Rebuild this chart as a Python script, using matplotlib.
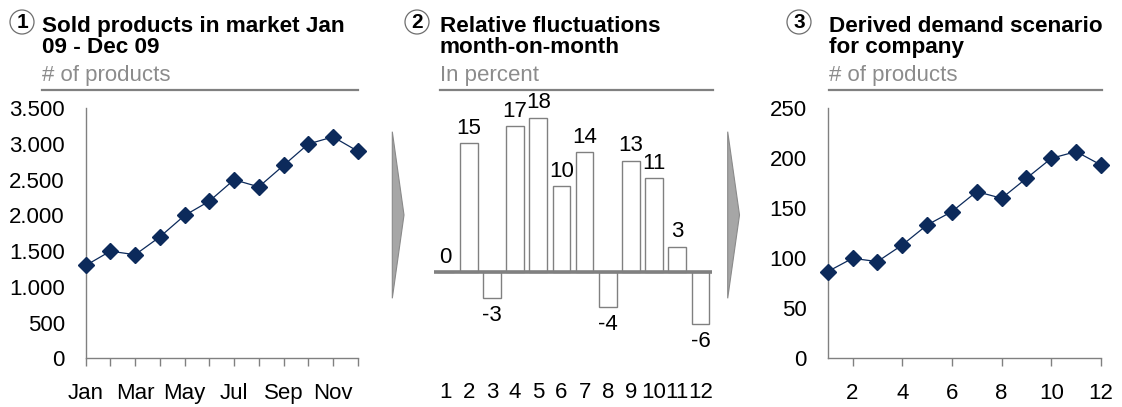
import matplotlib
matplotlib.use("Agg")
import matplotlib.pyplot as plt
from matplotlib.patches import Ellipse, Polygon
from matplotlib.ticker import FuncFormatter, FixedLocator

plt.rcParams['font.family'] = ['Liberation Sans', 'DejaVu Sans']

# ---- data ----
months = ["Jan", "Feb", "Mar", "Apr", "May", "Jun",
          "Jul", "Aug", "Sep", "Oct", "Nov", "Dec"]
market_sold = [1300, 1500, 1450, 1700, 2000, 2200, 2500, 2400, 2700, 3000, 3100, 2900]
mom_change = [0, 15, -3, 17, 18, 10, 14, -4, 13, 11, 3, -6]
period_numbers = list(range(1, 13))
company_demand = [86.7, 100, 96.7, 113.3, 133.3, 146.7, 166.7, 160, 180, 200, 206.7, 193.3]

titles = [("1", "Sold products in market Jan", "09 - Dec 09", "# of products"),
          ("2", "Relative fluctuations", "month-on-month", "In percent"),
          ("3", "Derived demand scenario", "for company", "# of products")]

# ---- layout helpers (pixel positions on a 1122x407 canvas) ----
W, H = 1122, 407
fig = plt.figure(figsize=(W / 100, H / 100), dpi=100)


def fx(x):
    return x / W


def fy(y):
    return 1 - y / H


def add_axes_px(left, right, top, bottom):
    return fig.add_axes([fx(left), fy(bottom), fx(right) - fx(left), fy(top) - fy(bottom)])


NAVY = "#0c2a5b"
GREY = "#808080"
FS = 16
TITLE_FS = 16.2

# ---- panel headers ----
header_x = [42, 439.5, 829]
circle_x = [22, 417, 799]
rule_end = [358, 713, 1101.5]
for (num, l1, l2, sub), tx, cx, rx in zip(titles, header_x, circle_x, rule_end):
    fig.add_artist(Ellipse((fx(cx), fy(22)), 24 / W, 24 / H, transform=fig.transFigure,
                           fill=False, ec="#6e6e6e", lw=0.9))
    fig.text(fx(cx), fy(22.5), num, ha="center", va="center", fontsize=15,
             fontweight="bold", color="black")
    fig.text(fx(tx), fy(32), l1, ha="left", va="baseline", fontsize=TITLE_FS,
             fontweight="bold", color="black")
    fig.text(fx(tx), fy(53), l2, ha="left", va="baseline", fontsize=TITLE_FS,
             fontweight="bold", color="black")
    fig.text(fx(tx), fy(81), sub, ha="left", va="baseline", fontsize=FS,
             color="#8c8c8c")
    fig.add_artist(plt.Line2D([fx(tx), fx(rx)], [fy(90), fy(90)],
                              transform=fig.transFigure, color=GREY, lw=1.6))

# ---- chevron arrows between panels ----
for x0, x1 in [(392.3, 404), (727.7, 739.5)]:
    fig.add_artist(Polygon([(fx(x0), fy(131.7)), (fx(x1), fy(215)), (fx(x0), fy(298.3))],
                           closed=True, transform=fig.transFigure,
                           fc="#a6a6a6", ec="#8a8a8a", lw=0.8))


def style_line_axes(ax):
    for s in ("top", "right"):
        ax.spines[s].set_visible(False)
    for s in ("left", "bottom"):
        ax.spines[s].set_color(GREY)
        ax.spines[s].set_linewidth(1.0)
    ax.tick_params(axis="y", length=0, pad=15, labelsize=FS, colors="black")
    ax.tick_params(axis="x", which="both", length=6, width=1.0, color=GREY,
                   pad=12, labelsize=FS, labelcolor="black")
    ax.set_facecolor("none")


# ---- panel 1: market sales ----
ax1 = add_axes_px(85.7, 357.7, 108.3, 358.3)
x1 = list(range(len(months)))
ax1.plot(x1, market_sold, color=NAVY, lw=0.9, marker="D", ms=8.5,
         mfc=NAVY, mec=NAVY, clip_on=False, zorder=3)
ax1.set_xlim(0, 11)
ax1.set_ylim(0, 3500)
ax1.set_yticks(range(0, 3501, 500))
ax1.yaxis.set_major_formatter(FuncFormatter(lambda v, p: f"{int(v):,}".replace(",", ".")))
ax1.set_xticks(x1[::2])
ax1.set_xticklabels(months[::2])
ax1.xaxis.set_minor_locator(FixedLocator(x1[1::2]))
style_line_axes(ax1)

# ---- panel 2: month-on-month change ----
ax2 = add_axes_px(434, 712, 108.3, 358.3)
bars = ax2.bar(period_numbers, mom_change, width=0.76, color="white",
               edgecolor=GREY, lw=1.0, zorder=2)
ax2.axhline(0, color=GREY, lw=2.6, zorder=3)
ax2.set_xlim(0.5, 12.5)
ax2.set_ylim(-10.0, 19.07)
ax2.set_xticks(period_numbers)
ax2.set_yticks([])
for s in ax2.spines.values():
    s.set_visible(False)
ax2.tick_params(axis="x", length=0, pad=17, labelsize=FS, colors="black")
ax2.set_facecolor("none")
for xi, v in zip(period_numbers, mom_change):
    if v >= 0:
        ax2.annotate(f"{v}", (xi, v), xytext=(0, 3), textcoords="offset points",
                     ha="center", va="bottom", fontsize=FS)
    else:
        ax2.annotate(f"{v}", (xi, v), xytext=(0, -5), textcoords="offset points",
                     ha="center", va="top", fontsize=FS)

# ---- panel 3: derived company demand ----
ax3 = add_axes_px(827.7, 1101, 108.3, 358.3)
ax3.plot(period_numbers, company_demand, color=NAVY, lw=0.9, marker="D", ms=8.5,
         mfc=NAVY, mec=NAVY, clip_on=False, zorder=3)
ax3.set_xlim(1, 12)
ax3.set_ylim(0, 250)
ax3.set_yticks(range(0, 251, 50))
ax3.set_xticks(period_numbers[1::2])
style_line_axes(ax3)

fig.savefig("out.png", dpi=100)
